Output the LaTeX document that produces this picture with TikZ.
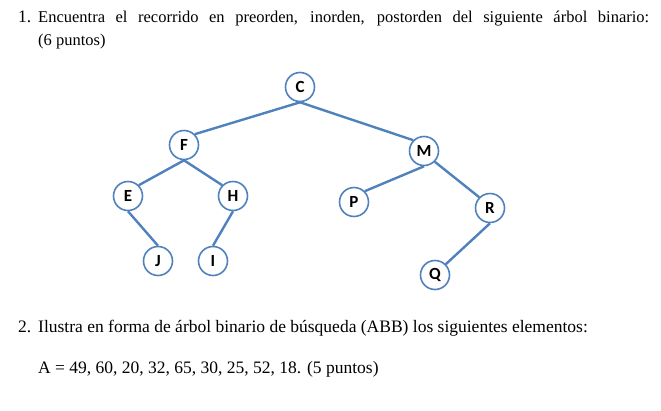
\documentclass[tikz,border=0pt]{standalone}
\usepackage{fontspec}
\setmainfont{Liberation Serif}
\newfontfamily\nodefont{Carlito}
\definecolor{tb}{RGB}{79,129,189}
\begin{document}
\begin{tikzpicture}[x=1pt,y=-1pt,
  tn/.style={circle,draw=tb,line width=1.6pt,fill=white,minimum size=29pt,inner sep=0pt,font=\nodefont\bfseries\fontsize{17}{17}\selectfont},
  te/.style={draw=tb,line width=2.4pt},
  txt/.style={anchor=base west,inner sep=0pt,font=\fontsize{17.5}{23}\selectfont}]
\useasboundingbox (0,0) rectangle (661,410);
\node[txt] (n1) at (18,22) {1.};
\node[txt,text width=611pt,align=justify,font=\fontsize{16.5}{23}\selectfont] (t1) at (38,22) {Encuentra el recorrido en preorden, inorden, postorden del siguiente árbol binario:\linebreak (6 puntos)};
\node[txt] (n2) at (18,332) {2.};
\node[txt] (t2) at (38,332) {Ilustra en forma de árbol binario de búsqueda (ABB) los siguientes elementos:};
\node[txt] (t3) at (38,373) {A = 49, 60, 20, 32, 65, 30, 25, 52, 18. (5 puntos)};
\node[tn] (C) at (300,87) {C};
\node[tn] (F) at (184,145) {F};
\node[tn] (M) at (424,151) {M};
\node[tn] (E) at (128,196) {E};
\node[tn] (H) at (233,196) {H};
\node[tn] (J) at (158,261) {J};
\node[tn] (I) at (213,261) {I};
\node[tn] (P) at (354,202) {P};
\node[tn] (R) at (490,208) {R};
\node[tn] (Q) at (435,275) {Q};
\draw[te] (C.south) -- (F.north east); \draw[te] (C.south) -- (M.north west);
\draw[te] (F.south) -- (E.north east); \draw[te] (F.south) -- (H.north west);
\draw[te] (E.south) -- (J.north); \draw[te] (H.south) -- (I.north);
\draw[te] (M.south) -- (P.north east); \draw[te] (M.south east) -- (R.north west);
\draw[te] (R.south) -- (Q.north east);
\end{tikzpicture}
\end{document}
